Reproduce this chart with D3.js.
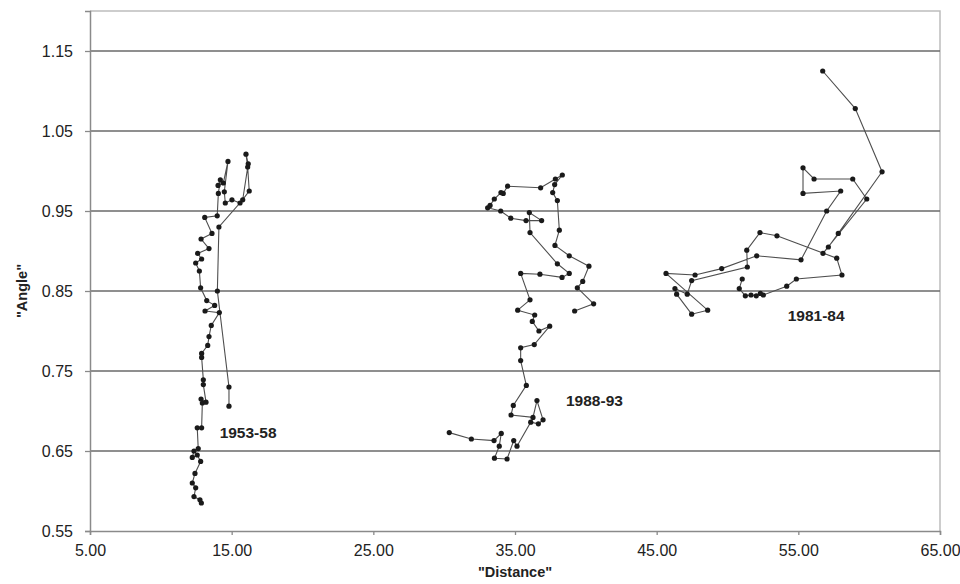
<!DOCTYPE html>
<html>
<head>
<meta charset="utf-8">
<script src="https://cdn.jsdelivr.net/npm/d3@7"></script>
<style>
  html, body { margin: 0; padding: 0; background: #fff; }
  svg text { font-family: "Liberation Sans", Arial, sans-serif; fill: #222; }
</style>
</head>
<body>
<div id="chart"></div>
<script>
// Three distance/angle trajectories.
const s1953x = [12.86, 12.76, 12.34, 12.46, 12.22, 12.41, 12.81, 12.57, 12.22, 12.34, 12.64, 12.57, 12.88, 12.93, 12.84, 13.19, 13.00, 13.00, 12.88, 12.88, 13.31, 13.40, 13.56, 14.13, 13.12, 13.80, 13.24, 12.81, 12.72, 12.46, 12.88, 12.60, 13.40, 12.84, 13.61, 13.10, 13.98, 14.06, 14.20, 14.04, 14.41, 14.74, 14.48, 14.55, 15.02, 15.59, 16.24, 16.13, 16.01, 16.17, 15.78, 14.10, 13.99, 14.81, 14.81];
const s1953y = [0.585, 0.589, 0.593, 0.604, 0.610, 0.622, 0.637, 0.645, 0.642, 0.650, 0.653, 0.679, 0.679, 0.710, 0.715, 0.711, 0.733, 0.739, 0.767, 0.772, 0.782, 0.793, 0.807, 0.823, 0.825, 0.832, 0.838, 0.854, 0.875, 0.885, 0.890, 0.897, 0.903, 0.915, 0.922, 0.942, 0.944, 0.972, 0.989, 0.982, 0.985, 1.012, 0.974, 0.960, 0.964, 0.960, 0.975, 1.005, 1.021, 1.009, 0.964, 0.930, 0.850, 0.730, 0.706];

const s1988x = [30.36, 31.92, 33.52, 34.03, 33.89, 33.55, 34.44, 34.91, 35.14, 36.11, 36.65, 36.98, 36.55, 36.27, 34.72, 34.88, 35.80, 35.40, 35.40, 36.36, 37.45, 36.69, 36.22, 36.39, 35.19, 36.06, 35.40, 36.76, 38.32, 38.83, 37.99, 36.06, 36.01, 36.88, 35.78, 34.70, 33.99, 33.07, 33.24, 33.54, 34.01, 34.17, 34.48, 36.81, 37.85, 38.34, 37.80, 37.66, 37.99, 38.13, 37.82, 38.83, 40.22, 39.78, 39.40, 40.55, 39.21];
const s1988y = [0.673, 0.665, 0.663, 0.672, 0.656, 0.641, 0.640, 0.663, 0.656, 0.686, 0.684, 0.689, 0.713, 0.692, 0.695, 0.707, 0.732, 0.763, 0.779, 0.783, 0.806, 0.800, 0.812, 0.820, 0.826, 0.839, 0.872, 0.871, 0.867, 0.872, 0.884, 0.923, 0.948, 0.938, 0.938, 0.941, 0.950, 0.954, 0.957, 0.965, 0.973, 0.972, 0.981, 0.979, 0.990, 0.995, 0.983, 0.973, 0.963, 0.926, 0.907, 0.894, 0.881, 0.862, 0.854, 0.834, 0.825];

const s1981x = [56.72, 59.02, 60.91, 57.82, 57.12, 56.74, 59.83, 58.84, 56.11, 55.33, 55.33, 57.99, 57.00, 55.19, 52.06, 49.59, 47.71, 45.66, 48.60, 47.47, 46.41, 46.29, 47.16, 47.47, 51.40, 51.36, 52.29, 53.49, 57.71, 58.08, 54.86, 54.18, 52.53, 52.32, 52.03, 51.66, 51.26, 50.83, 51.04];
const s1981y = [1.125, 1.078, 0.999, 0.922, 0.905, 0.897, 0.965, 0.990, 0.990, 1.004, 0.972, 0.975, 0.950, 0.889, 0.894, 0.878, 0.870, 0.872, 0.826, 0.821, 0.846, 0.853, 0.846, 0.863, 0.880, 0.901, 0.923, 0.919, 0.891, 0.870, 0.865, 0.856, 0.845, 0.847, 0.844, 0.845, 0.844, 0.853, 0.865];

const seriesNames = ["1953-58", "1988-93", "1981-84"];
const labelAt = [[14.15, 0.666], [38.6, 0.706], [54.25, 0.813]]; // data coords of the period labels

const xTicks = [5, 15, 25, 35, 45, 55, 65];
const yTicks = [0.55, 0.65, 0.75, 0.85, 0.95, 1.05, 1.15];

const W = 960, H = 584;
const m = { top: 11, right: 20, bottom: 53, left: 90 };

const svg = d3.select("#chart").append("svg").attr("width", W).attr("height", H);
const x = d3.scaleLinear().domain([5, 65]).range([m.left, W - m.right]);
const y = d3.scaleLinear().domain([0.55, 1.2]).range([H - m.bottom, m.top]);

// frame (top and right edges are lighter)
svg.append("path")
  .attr("d", `M${x(5)},${y(1.2)}H${x(65)}V${y(0.55)}`)
  .attr("fill", "none").attr("stroke", "#bdbdbd").attr("stroke-width", 1.5);

// horizontal grid
svg.append("g").selectAll("line").data(yTicks.filter(t => t > 0.55)).join("line")
  .attr("x1", x(5)).attr("x2", x(65))
  .attr("y1", d => y(d)).attr("y2", d => y(d))
  .attr("stroke", "#6a6a6a").attr("stroke-width", 1.4);

// axes
const yAxis = svg.append("g").attr("transform", `translate(${x(5)},0)`)
  .call(d3.axisLeft(y).tickValues(yTicks).tickFormat(d3.format(".2f")).tickSize(5).tickPadding(12));
const xAxis = svg.append("g").attr("transform", `translate(0,${y(0.55)})`)
  .call(d3.axisBottom(x).tickValues(xTicks).tickFormat(d3.format(".2f")).tickSize(4).tickPadding(10));
[yAxis, xAxis].forEach(a => {
  a.select(".domain").attr("stroke", "#8a8a8a").attr("stroke-width", 1.5);
  a.selectAll(".tick line").attr("stroke", "#8a8a8a").attr("stroke-width", 1.3);
  a.selectAll(".tick text").attr("font-size", 16).attr("fill", "#333")
    .style("font-family", '"Liberation Sans", Arial, sans-serif');
});

// data series
const series = [[s1953x, s1953y], [s1988x, s1988y], [s1981x, s1981y]]
  .map(([xs, ys]) => xs.map((v, i) => [v, ys[i]]));
const line = d3.line().x(d => x(d[0])).y(d => y(d[1]));

svg.append("g").selectAll("path").data(series).join("path")
  .attr("d", line).attr("fill", "none").attr("stroke", "#4e4e4e").attr("stroke-width", 1.1);

svg.append("g").selectAll("circle").data(series.flat()).join("circle")
  .attr("cx", d => x(d[0])).attr("cy", d => y(d[1])).attr("r", 2.6).attr("fill", "#1a1a1a");

svg.append("g").selectAll("text").data(seriesNames).join("text")
  .attr("x", (d, i) => x(labelAt[i][0])).attr("y", (d, i) => y(labelAt[i][1]))
  .attr("font-size", 15.5).attr("font-weight", "bold").attr("fill", "#111")
  .text(d => d);

// axis titles
svg.append("text").attr("transform", `translate(27,${y(0.85)}) rotate(-90)`)
  .attr("text-anchor", "middle").attr("font-size", 14.5).attr("font-weight", "bold").text('"Angle"');
svg.append("text").attr("x", (x(5) + x(65)) / 2).attr("y", 577)
  .attr("text-anchor", "middle").attr("font-size", 14.5).attr("font-weight", "bold").text('"Distance"');
</script>
</body>
</html>
